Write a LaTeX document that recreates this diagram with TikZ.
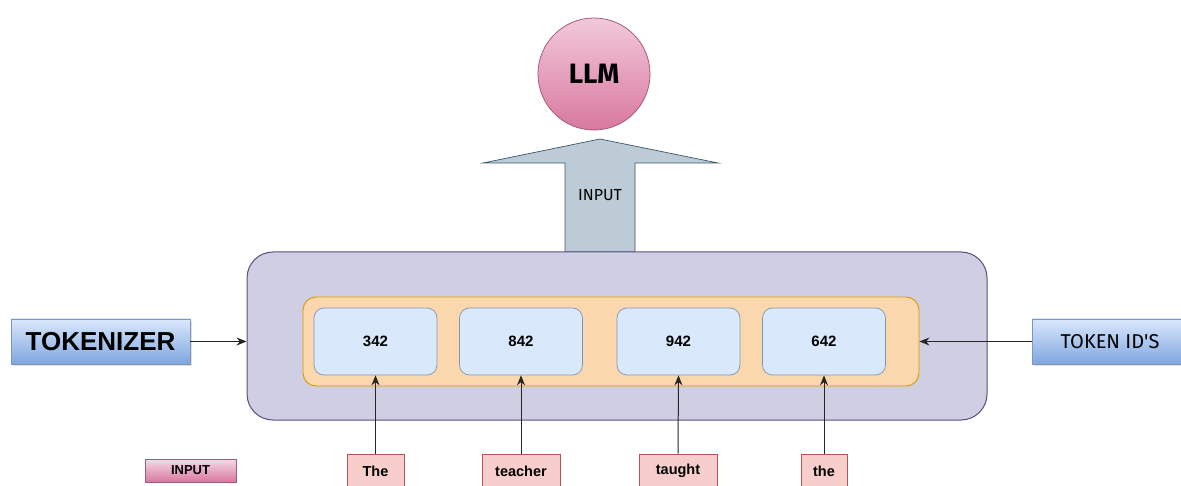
\documentclass[tikz,border=0pt]{standalone}
\usepackage{fontspec}
\setmainfont{Liberation Sans}
\newfontfamily\handfont{Fira Sans}
\usetikzlibrary{arrows.meta,shadows}

\definecolor{outerfill}{HTML}{D0CEE2}
\definecolor{outerline}{HTML}{56517E}
\definecolor{orfill}{HTML}{FAD7AC}
\definecolor{orline}{HTML}{D79B00}
\definecolor{bluefill}{HTML}{DAE8FC}
\definecolor{blueline}{HTML}{7F97B5}
\definecolor{wordfill}{HTML}{F8CECC}
\definecolor{wordline}{HTML}{B85450}
\definecolor{arrowfill}{HTML}{BCCBD6}
\definecolor{arrowline}{HTML}{3C5468}
\definecolor{pinklight}{HTML}{F2C9DA}
\definecolor{pinkdark}{HTML}{D8789F}
\definecolor{pinkline}{HTML}{A85A7E}
\definecolor{gradtop}{HTML}{DAE8FC}
\definecolor{gradbot}{HTML}{7EA6E0}

\tikzset{
  outerbox/.style={draw=outerline, fill=outerfill, line width=1pt,
    rounded corners=26pt, minimum width=740pt, minimum height=168pt},
  groupbox/.style={draw=orline, fill=orfill, line width=0.9pt,
    rounded corners=13pt, minimum width=616pt, minimum height=89pt},
  idbox/.style={draw=blueline, fill=bluefill, line width=0.7pt,
    rounded corners=10pt, minimum width=123pt, minimum height=67pt,
    font=\fontsize{15}{17}\selectfont\bfseries},
  wordbox/.style={draw=wordline, fill=wordfill, line width=0.7pt,
    minimum height=34pt, inner sep=0pt,
    font=\fontsize{14.5}{17}\selectfont\bfseries},
  labelbox/.style={draw=blueline, top color=gradtop, bottom color=gradbot,
    line width=0.7pt, minimum height=45pt, inner sep=0pt,
    drop shadow={shadow xshift=2pt, shadow yshift=-2pt, opacity=0.25}},
  feed/.style={-{Stealth[length=10pt,width=8pt]}, line width=1pt, black!85},
}

\begin{document}
\begin{tikzpicture}[x=1pt, y=-1pt]
  \useasboundingbox (0,0) rectangle (1181,486);
  \clip (0,0) rectangle (1181,486);

  % model
  \path[draw=pinkline, line width=0.8pt, top color=pinklight, bottom color=pinkdark]
    (594,74) circle (56);
  \node[font=\handfont\fontsize{28}{30}\selectfont\bfseries] (llm) at (594,74) {LLM};

  % block arrow feeding the model
  \path[draw=arrowline, fill=arrowfill, line width=0.7pt, line join=miter]
    (600,139) -- (718,163) -- (635,163) -- (635,252) -- (565,252) -- (565,163)
    -- (483,163) -- cycle;
  \node[font=\handfont\fontsize{16}{18}\selectfont] (feedlabel) at (600,195) {INPUT};

  % tokenizer container
  \node[outerbox] (outer) at (617,336) {};
  \node[groupbox] (group) at (611,341.5) {};

  % token ids
  \node[idbox] (id1) at (375.5,341.5) {342};
  \node[idbox] (id2) at (521,341.5) {842};
  \node[idbox] (id3) at (678.5,341.5) {942};
  \node[idbox] (id4) at (824,341.5) {642};

  % words
  \node[wordbox, minimum width=57pt] (w1) at (375.5,471) {The};
  \node[wordbox, minimum width=78pt] (w2) at (521,471) {teacher};
  \node[wordbox, minimum width=78pt] (w3) at (678,471) {taught};
  \node[wordbox, minimum width=46pt] (w4) at (824,471) {the};

  \draw[feed] (w1.north) -- (id1.south);
  \draw[feed] (w2.north) -- (id2.south);
  \draw[feed] (w3.north) -- (id3.south);
  \draw[feed] (w4.north) -- (id4.south);

  % side labels
  \node[labelbox, minimum width=179pt, font=\fontsize{26}{28}\selectfont\bfseries]
    (tok) at (100.5,341.5) {TOKENIZER};
  \node[labelbox, minimum width=156pt, font=\handfont\fontsize{20}{22}\selectfont]
    (tokid) at (1110,341.5) {TOKEN ID'S};

  \draw[feed] (tok.east) -- (tok.east -| outer.west);
  \draw[feed] (tokid.west) -- (tokid.west -| group.east);

  % legend
  \node[draw=pinkline, top color=pinklight!70!white, bottom color=pinkdark,
    line width=0.7pt, minimum width=91pt, minimum height=23pt, inner sep=0pt,
    font=\fontsize{13}{15}\selectfont\bfseries] (legend) at (190.5,470.5) {INPUT};
\end{tikzpicture}
\end{document}
